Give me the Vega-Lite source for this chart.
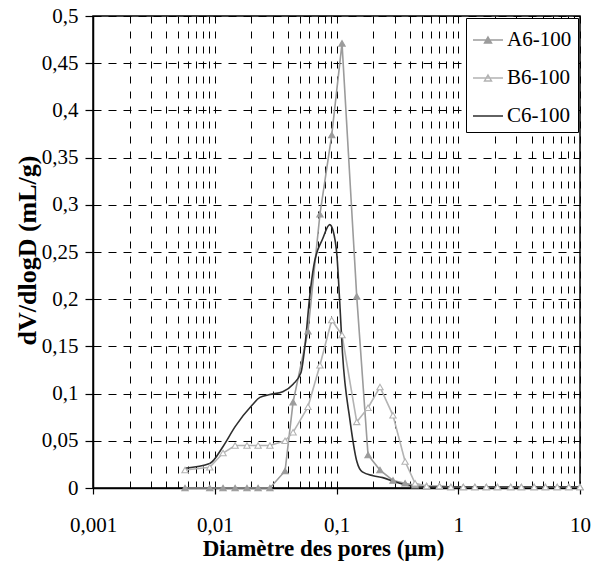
{
  "$schema": "https://vega.github.io/schema/vega-lite/v6.json",
  "width": 487,
  "height": 472,
  "autosize": {"type": "none"},
  "padding": {"left": 93, "top": 16, "right": 12, "bottom": 77},
  "background": "white",
  "config": {
    "view": {"stroke": "black", "strokeWidth": 1.5},
    "font": "'Liberation Serif', 'Times New Roman', Times, serif"
  },
  "data": {
    "values": [
      {"s": "A6-100", "d": 0.0057, "v": 0},
      {"s": "A6-100", "d": 0.0091, "v": 0},
      {"s": "A6-100", "d": 0.0117, "v": 0},
      {"s": "A6-100", "d": 0.0147, "v": 0},
      {"s": "A6-100", "d": 0.0184, "v": 0},
      {"s": "A6-100", "d": 0.0227, "v": 0},
      {"s": "A6-100", "d": 0.0284, "v": 0},
      {"s": "A6-100", "d": 0.0378, "v": 0.018},
      {"s": "A6-100", "d": 0.044, "v": 0.091},
      {"s": "A6-100", "d": 0.0583, "v": 0.166},
      {"s": "A6-100", "d": 0.0731, "v": 0.29},
      {"s": "A6-100", "d": 0.0914, "v": 0.374},
      {"s": "A6-100", "d": 0.111, "v": 0.471},
      {"s": "A6-100", "d": 0.1466, "v": 0.203},
      {"s": "A6-100", "d": 0.1816, "v": 0.035},
      {"s": "A6-100", "d": 0.2276, "v": 0.019},
      {"s": "A6-100", "d": 0.291, "v": 0.008},
      {"s": "A6-100", "d": 0.366, "v": 0.005},
      {"s": "A6-100", "d": 0.442, "v": 0.003},
      {"s": "A6-100", "d": 0.55, "v": 0.002},
      {"s": "A6-100", "d": 0.7, "v": 0.002},
      {"s": "A6-100", "d": 0.87, "v": 0.001},
      {"s": "A6-100", "d": 1.1, "v": 0.001},
      {"s": "A6-100", "d": 1.37, "v": 0.001},
      {"s": "A6-100", "d": 1.7, "v": 0.001},
      {"s": "A6-100", "d": 2.1, "v": 0.001},
      {"s": "A6-100", "d": 2.7, "v": 0.001},
      {"s": "A6-100", "d": 3.3, "v": 0.001},
      {"s": "A6-100", "d": 4.2, "v": 0.001},
      {"s": "A6-100", "d": 5.2, "v": 0.001},
      {"s": "A6-100", "d": 6.5, "v": 0.001},
      {"s": "A6-100", "d": 8.1, "v": 0.001},
      {"s": "A6-100", "d": 10, "v": 0.001},
      {"s": "B6-100", "d": 0.0057, "v": 0.019},
      {"s": "B6-100", "d": 0.0091, "v": 0.022},
      {"s": "B6-100", "d": 0.0117, "v": 0.037},
      {"s": "B6-100", "d": 0.0147, "v": 0.045},
      {"s": "B6-100", "d": 0.0184, "v": 0.045},
      {"s": "B6-100", "d": 0.0227, "v": 0.045},
      {"s": "B6-100", "d": 0.0284, "v": 0.045},
      {"s": "B6-100", "d": 0.0378, "v": 0.05},
      {"s": "B6-100", "d": 0.044, "v": 0.059},
      {"s": "B6-100", "d": 0.0583, "v": 0.086},
      {"s": "B6-100", "d": 0.0731, "v": 0.13},
      {"s": "B6-100", "d": 0.0914, "v": 0.178},
      {"s": "B6-100", "d": 0.111, "v": 0.162},
      {"s": "B6-100", "d": 0.1466, "v": 0.07},
      {"s": "B6-100", "d": 0.1816, "v": 0.085},
      {"s": "B6-100", "d": 0.2276, "v": 0.107},
      {"s": "B6-100", "d": 0.291, "v": 0.077},
      {"s": "B6-100", "d": 0.366, "v": 0.028},
      {"s": "B6-100", "d": 0.442, "v": 0.005},
      {"s": "B6-100", "d": 0.55, "v": 0.002},
      {"s": "B6-100", "d": 0.7, "v": 0.002},
      {"s": "B6-100", "d": 0.87, "v": 0.001},
      {"s": "B6-100", "d": 1.1, "v": 0.001},
      {"s": "B6-100", "d": 1.37, "v": 0.001},
      {"s": "B6-100", "d": 1.7, "v": 0.001},
      {"s": "B6-100", "d": 2.1, "v": 0.001},
      {"s": "B6-100", "d": 2.7, "v": 0.001},
      {"s": "B6-100", "d": 3.3, "v": 0.001},
      {"s": "B6-100", "d": 4.2, "v": 0.001},
      {"s": "B6-100", "d": 5.2, "v": 0.001},
      {"s": "B6-100", "d": 6.5, "v": 0.001},
      {"s": "B6-100", "d": 8.1, "v": 0.001},
      {"s": "B6-100", "d": 10, "v": 0.001},
      {"s": "C6-100", "d": 0.0057, "v": 0.021},
      {"s": "C6-100", "d": 0.0091, "v": 0.026},
      {"s": "C6-100", "d": 0.0117, "v": 0.044},
      {"s": "C6-100", "d": 0.0147, "v": 0.065},
      {"s": "C6-100", "d": 0.0203, "v": 0.088},
      {"s": "C6-100", "d": 0.0235, "v": 0.096},
      {"s": "C6-100", "d": 0.0284, "v": 0.099},
      {"s": "C6-100", "d": 0.0362, "v": 0.102},
      {"s": "C6-100", "d": 0.044, "v": 0.11},
      {"s": "C6-100", "d": 0.051, "v": 0.122},
      {"s": "C6-100", "d": 0.055, "v": 0.15},
      {"s": "C6-100", "d": 0.0605, "v": 0.205},
      {"s": "C6-100", "d": 0.065, "v": 0.235},
      {"s": "C6-100", "d": 0.077, "v": 0.264},
      {"s": "C6-100", "d": 0.088, "v": 0.279},
      {"s": "C6-100", "d": 0.094, "v": 0.272},
      {"s": "C6-100", "d": 0.101, "v": 0.245},
      {"s": "C6-100", "d": 0.107, "v": 0.19},
      {"s": "C6-100", "d": 0.112, "v": 0.143},
      {"s": "C6-100", "d": 0.129, "v": 0.072},
      {"s": "C6-100", "d": 0.147, "v": 0.028},
      {"s": "C6-100", "d": 0.163, "v": 0.017},
      {"s": "C6-100", "d": 0.2, "v": 0.013},
      {"s": "C6-100", "d": 0.24, "v": 0.011},
      {"s": "C6-100", "d": 0.31, "v": 0.006},
      {"s": "C6-100", "d": 0.38, "v": 0.003},
      {"s": "C6-100", "d": 0.5, "v": 0.001},
      {"s": "C6-100", "d": 1, "v": 0.001},
      {"s": "C6-100", "d": 10, "v": 0.001}
    ]
  },
  "encoding": {
    "x": {
      "field": "d",
      "type": "quantitative",
      "scale": {"type": "log", "domain": [0.001, 10], "nice": false},
      "axis": {
        "title": "Diamètre des pores (µm)",
        "values": [0.001, 0.002, 0.003, 0.004, 0.005, 0.006, 0.007, 0.008, 0.009, 0.01, 0.02, 0.03, 0.04, 0.05, 0.06, 0.07, 0.08, 0.09, 0.1, 0.2, 0.3, 0.4, 0.5, 0.6, 0.7, 0.8, 0.9, 1, 2, 3, 4, 5, 6, 7, 8, 9, 10],
        "labelExpr": "abs(log(datum.value)/LN10 - round(log(datum.value)/LN10)) < 0.001 ? (datum.value >= 1 ? format(datum.value, 'd') : replace(format(datum.value, '.3~f'), '.', ',')) : ''",
        "labelOverlap": false,
        "labelFlush": false,
        "grid": true,
        "gridColor": "black",
        "gridDash": [7, 8],
        "gridWidth": 1,
        "gridOpacity": 1,
        "domainColor": "black",
        "domainWidth": 1.5,
        "tickColor": "black",
        "tickSize": 6,
        "tickWidth": 1.2,
        "tickOpacity": {"condition": {"test": "abs(log(datum.value)/LN10 - round(log(datum.value)/LN10)) < 0.001", "value": 1}, "value": 0},
        "labelFont": "'Liberation Serif', 'Times New Roman', Times, serif",
        "labelFontSize": 21,
        "labelColor": "black",
        "labelPadding": 20,
        "titleFont": "'Liberation Serif', 'Times New Roman', Times, serif",
        "titleFontSize": 23,
        "titleFontWeight": "bold",
        "titleColor": "black",
        "titleX": 230,
        "titleY": 67,
        "titleBaseline": "alphabetic",
        "titleAlign": "center"
      }
    },
    "y": {
      "field": "v",
      "type": "quantitative",
      "scale": {"domain": [0, 0.5], "nice": false},
      "axis": {
        "title": "dV/dlogD (mL/g)",
        "values": [0, 0.05, 0.1, 0.15, 0.2, 0.25, 0.3, 0.35, 0.4, 0.45, 0.5],
        "labelExpr": "replace(format(datum.value, '.2~f'), '.', ',')",
        "labelFlush": false,
        "labelOverlap": false,
        "grid": true,
        "gridColor": "black",
        "gridDash": [8, 7],
        "gridWidth": 1,
        "gridOpacity": 1,
        "domainColor": "black",
        "domainWidth": 1.5,
        "tickColor": "black",
        "tickSize": 8,
        "tickWidth": 1.2,
        "labelFont": "'Liberation Serif', 'Times New Roman', Times, serif",
        "labelFontSize": 21,
        "labelColor": "black",
        "labelPadding": 7,
        "titleFont": "'Liberation Serif', 'Times New Roman', Times, serif",
        "titleFontSize": 26,
        "titleFontWeight": "bold",
        "titleColor": "black",
        "titleX": -53,
        "titleY": 234,
        "titleAngle": 270,
        "titleAlign": "center",
        "titleBaseline": "bottom"
      }
    }
  },
  "layer": [
    {
      "transform": [{"filter": "datum.s !== 'C6-100'"}],
      "mark": {"type": "line", "strokeWidth": 1.6},
      "encoding": {
        "color": {
          "field": "s",
          "type": "nominal",
          "scale": {"domain": ["A6-100", "B6-100", "C6-100"], "range": ["#9c9c9c", "#b3b3b3", "#2e2e2e"]},
          "legend": {
            "title": null,
            "orient": "top-right",
            "offset": 2,
            "fillColor": "white",
            "strokeColor": "black",
            "padding": 6,
            "rowPadding": 12,
            "labelFont": "'Liberation Serif', 'Times New Roman', Times, serif",
            "labelFontSize": 21,
            "labelColor": "black",
            "labelOffset": 3,
            "symbolSize": 900,
            "symbolStrokeWidth": 1.5,
            "encode": {
              "symbols": {
                "update": {
                  "shape": {"signal": "datum.value === 'C6-100' ? 'M-1,0H1' : 'M-1,0H1M0,-0.2L0.23,0.2H-0.23Z'"},
                  "fill": {"signal": "datum.value === 'A6-100' ? '#9c9c9c' : datum.value === 'B6-100' ? '#ffffff' : 'transparent'"},
                  "fillOpacity": {"value": 1},
                  "opacity": {"value": 1}
                }
              }
            }
          }
        }
      }
    },
    {
      "transform": [{"filter": "datum.s === 'C6-100'"}],
      "mark": {"type": "line", "interpolate": "monotone", "strokeWidth": 1.6},
      "encoding": {
        "color": {
          "field": "s",
          "type": "nominal",
          "scale": {"domain": ["A6-100", "B6-100", "C6-100"], "range": ["#9c9c9c", "#b3b3b3", "#2e2e2e"]}
        }
      }
    },
    {
      "transform": [{"filter": "datum.s !== 'C6-100'"}],
      "mark": {"type": "point", "shape": "triangle-up", "size": 40, "opacity": 1, "strokeWidth": 1.1},
      "encoding": {
        "stroke": {"field": "s", "type": "nominal", "scale": {"domain": ["A6-100", "B6-100"], "range": ["#9c9c9c", "#b3b3b3"]}, "legend": null},
        "fill": {"field": "s", "type": "nominal", "scale": {"domain": ["A6-100", "B6-100"], "range": ["#9c9c9c", "#ffffff"]}, "legend": null}
      }
    }
  ]
}
